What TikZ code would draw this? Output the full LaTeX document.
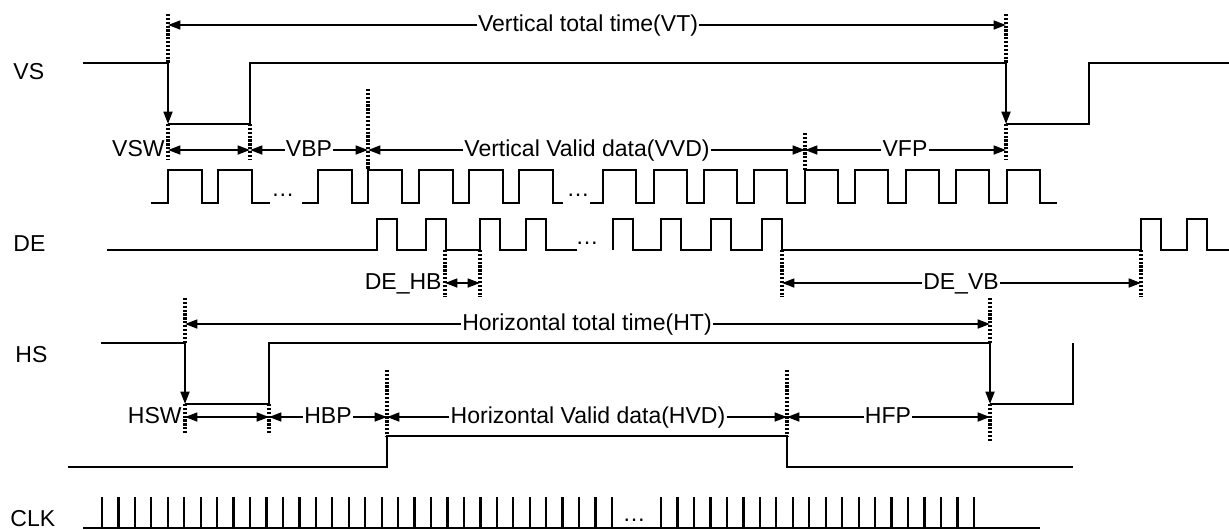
\documentclass[tikz,border=0pt]{standalone}
\usepackage{fontspec}
\setmainfont{Liberation Sans}
\usetikzlibrary{arrows.meta}

\begin{document}
\begin{tikzpicture}[x=0.02cm, y=-0.02cm,
  wave/.style={line width=1.3pt},
  edge/.style={line width=1.3pt, -{Triangle[length=7pt,width=5pt]}},
  dotline/.style={line width=2pt, dash pattern=on 1.3pt off 0.9pt},
  dim/.style={line width=1.2pt, -{Triangle[length=7pt,width=5pt]}},
  dimb/.style={line width=1.2pt, {Triangle[length=7pt,width=5pt]}-{Triangle[length=7pt,width=5pt]}},
  lbl/.style={inner sep=0pt, inner xsep=0.6pt, text height=0.72em, text depth=0pt, font=\fontsize{13.1}{15}\selectfont},
  sig/.style={lbl, anchor=west},
  gap/.style={inner sep=0pt, anchor=base, font=\fontsize{13.1}{15}\selectfont}]
\useasboundingbox (0,0) rectangle (1229,529);

\foreach \x/\a/\b in {168/14/63, 168/124/160, 250/124/160, 368/89/170, 805/133/170, 1006/14/63, 1006/124/160,
  445/250/297, 480/250/297, 782/250/297, 1141/250/297,
  185/298/343, 185/404/433, 269/404/433, 387/370/436, 787/370/436, 990/298/343, 990/404/442}
  \draw[dotline] (\x,\a) -- (\x,\b);

\node[sig] (lvs) at (12,73) {VS};
\node[sig] (lde) at (12,245) {DE};
\node[sig] (lhs) at (14,356) {HS};
\node[sig] (lclk) at (9,520) {CLK};

% VS
\coordinate (vs0) at (168,63);
\coordinate (vs1) at (168,124);
\coordinate (vs2) at (1006,63);
\coordinate (vs3) at (1006,124);
\draw[wave] (83,63) -- (vs0);
\draw[edge] (vs0) -- (vs1);
\draw[wave] (vs1) -- (250,124) -- (250,63) -- (vs2);
\draw[edge] (vs2) -- (vs3);
\draw[wave] (vs3) -- (1089,124) -- (1089,63) -- (1229,63);

\draw[wave] (151,203) foreach \r in {168,218} {-- (\r,203) -- (\r,170) -- (\r+34,170) -- (\r+34,203)} -- (270,203);
\draw[wave] (302,203) foreach \r in {318,368,419,469,519} {-- (\r,203) -- (\r,170) -- (\r+34,170) -- (\r+34,203)} -- (563,203);
\draw[wave] (590,203) foreach \r in {603,654,704,754,805,855,906,956,1007} {-- (\r,203) -- (\r,170) -- (\r+33,170) -- (\r+33,203)} -- (1057,203);
\node[gap] (g0) at (283,196) {…};
\node[gap] (g1) at (578,196) {…};

% DE
\draw[wave] (107,250) foreach \r in {377,426,480,526} {-- (\r,250) -- (\r,219) -- (\r+20,219) -- (\r+20,250)} -- (577,250);
\draw[wave] (613,250) foreach \r in {613,661,711,762,1141,1187} {-- (\r,250) -- (\r,219) -- (\r+20,219) -- (\r+20,250)} -- (1229,250);
\node[gap] (g2) at (587,244) {…};

% HS
\coordinate (hs0) at (185,343);
\coordinate (hs1) at (185,404);
\coordinate (hs2) at (990,343);
\coordinate (hs3) at (990,404);
\draw[wave] (101,343) -- (hs0);
\draw[edge] (hs0) -- (hs1);
\draw[wave] (hs1) -- (269,404) -- (269,343) -- (hs2);
\draw[edge] (hs2) -- (hs3);
\draw[wave] (hs3) -- (1073,404) -- (1073,343);

\draw[wave] (68,467) -- (387,467) -- (387,436) -- (787,436) -- (787,467) -- (1073,467);

% CLK
\draw[wave] (83,528) -- (1040,528);
\foreach \i in {0,...,31} \draw[wave] (102+16.45*\i,497) -- (102+16.45*\i,528);
\foreach \i in {0,...,19} \draw[wave] (661+16.47*\i,497) -- (661+16.47*\i,528);
\node[gap] (g3) at (634,521) {…};

% timing arrows
\coordinate (t0) at (168,25);
\coordinate (t1) at (1006,25);
\node[lbl] (vt) at (588,25) {Vertical total time(VT)};
\draw[dim] (vt) -- (t0);
\draw[dim] (vt) -- (t1);

\coordinate (b0) at (168,150);
\coordinate (b1) at (250,150);
\coordinate (b2) at (368,150);
\coordinate (b3) at (805,150);
\coordinate (b4) at (1006,150);
\node[lbl, anchor=east] (vsw) at (166,150) {VSW};
\draw[dimb] (b0) -- (b1);
\node[lbl] (vbp) at (309,150) {VBP};
\draw[dim] (vbp) -- (b1);
\draw[dim] (vbp) -- (b2);
\node[lbl] (vvd) at (587,150) {Vertical Valid data(VVD)};
\draw[dim] (vvd) -- (b2);
\draw[dim] (vvd) -- (b3);
\node[lbl] (vfp) at (905,150) {VFP};
\draw[dim] (vfp) -- (b3);
\draw[dim] (vfp) -- (b4);

\coordinate (d0) at (445,283);
\coordinate (d1) at (480,283);
\coordinate (d2) at (782,283);
\coordinate (d3) at (1141,283);
\node[lbl, anchor=east] (dehb) at (443,283) {DE\_HB};
\draw[dimb] (d0) -- (d1);
\node[lbl] (devb) at (961,283) {DE\_VB};
\draw[dim] (devb) -- (d2);
\draw[dim] (devb) -- (d3);

\coordinate (h0) at (185,324);
\coordinate (h1) at (990,324);
\node[lbl] (ht) at (587,324) {Horizontal total time(HT)};
\draw[dim] (ht) -- (h0);
\draw[dim] (ht) -- (h1);

\coordinate (e0) at (185,417);
\coordinate (e1) at (269,417);
\coordinate (e2) at (387,417);
\coordinate (e3) at (787,417);
\coordinate (e4) at (990,417);
\node[lbl, anchor=east] (hsw) at (183,417) {HSW};
\draw[dimb] (e0) -- (e1);
\node[lbl] (hbp) at (328,417) {HBP};
\draw[dim] (hbp) -- (e1);
\draw[dim] (hbp) -- (e2);
\node[lbl] (hvd) at (588,417) {Horizontal Valid data(HVD)};
\draw[dim] (hvd) -- (e2);
\draw[dim] (hvd) -- (e3);
\node[lbl] (hfp) at (888,417) {HFP};
\draw[dim] (hfp) -- (e3);
\draw[dim] (hfp) -- (e4);

\end{tikzpicture}
\end{document}
